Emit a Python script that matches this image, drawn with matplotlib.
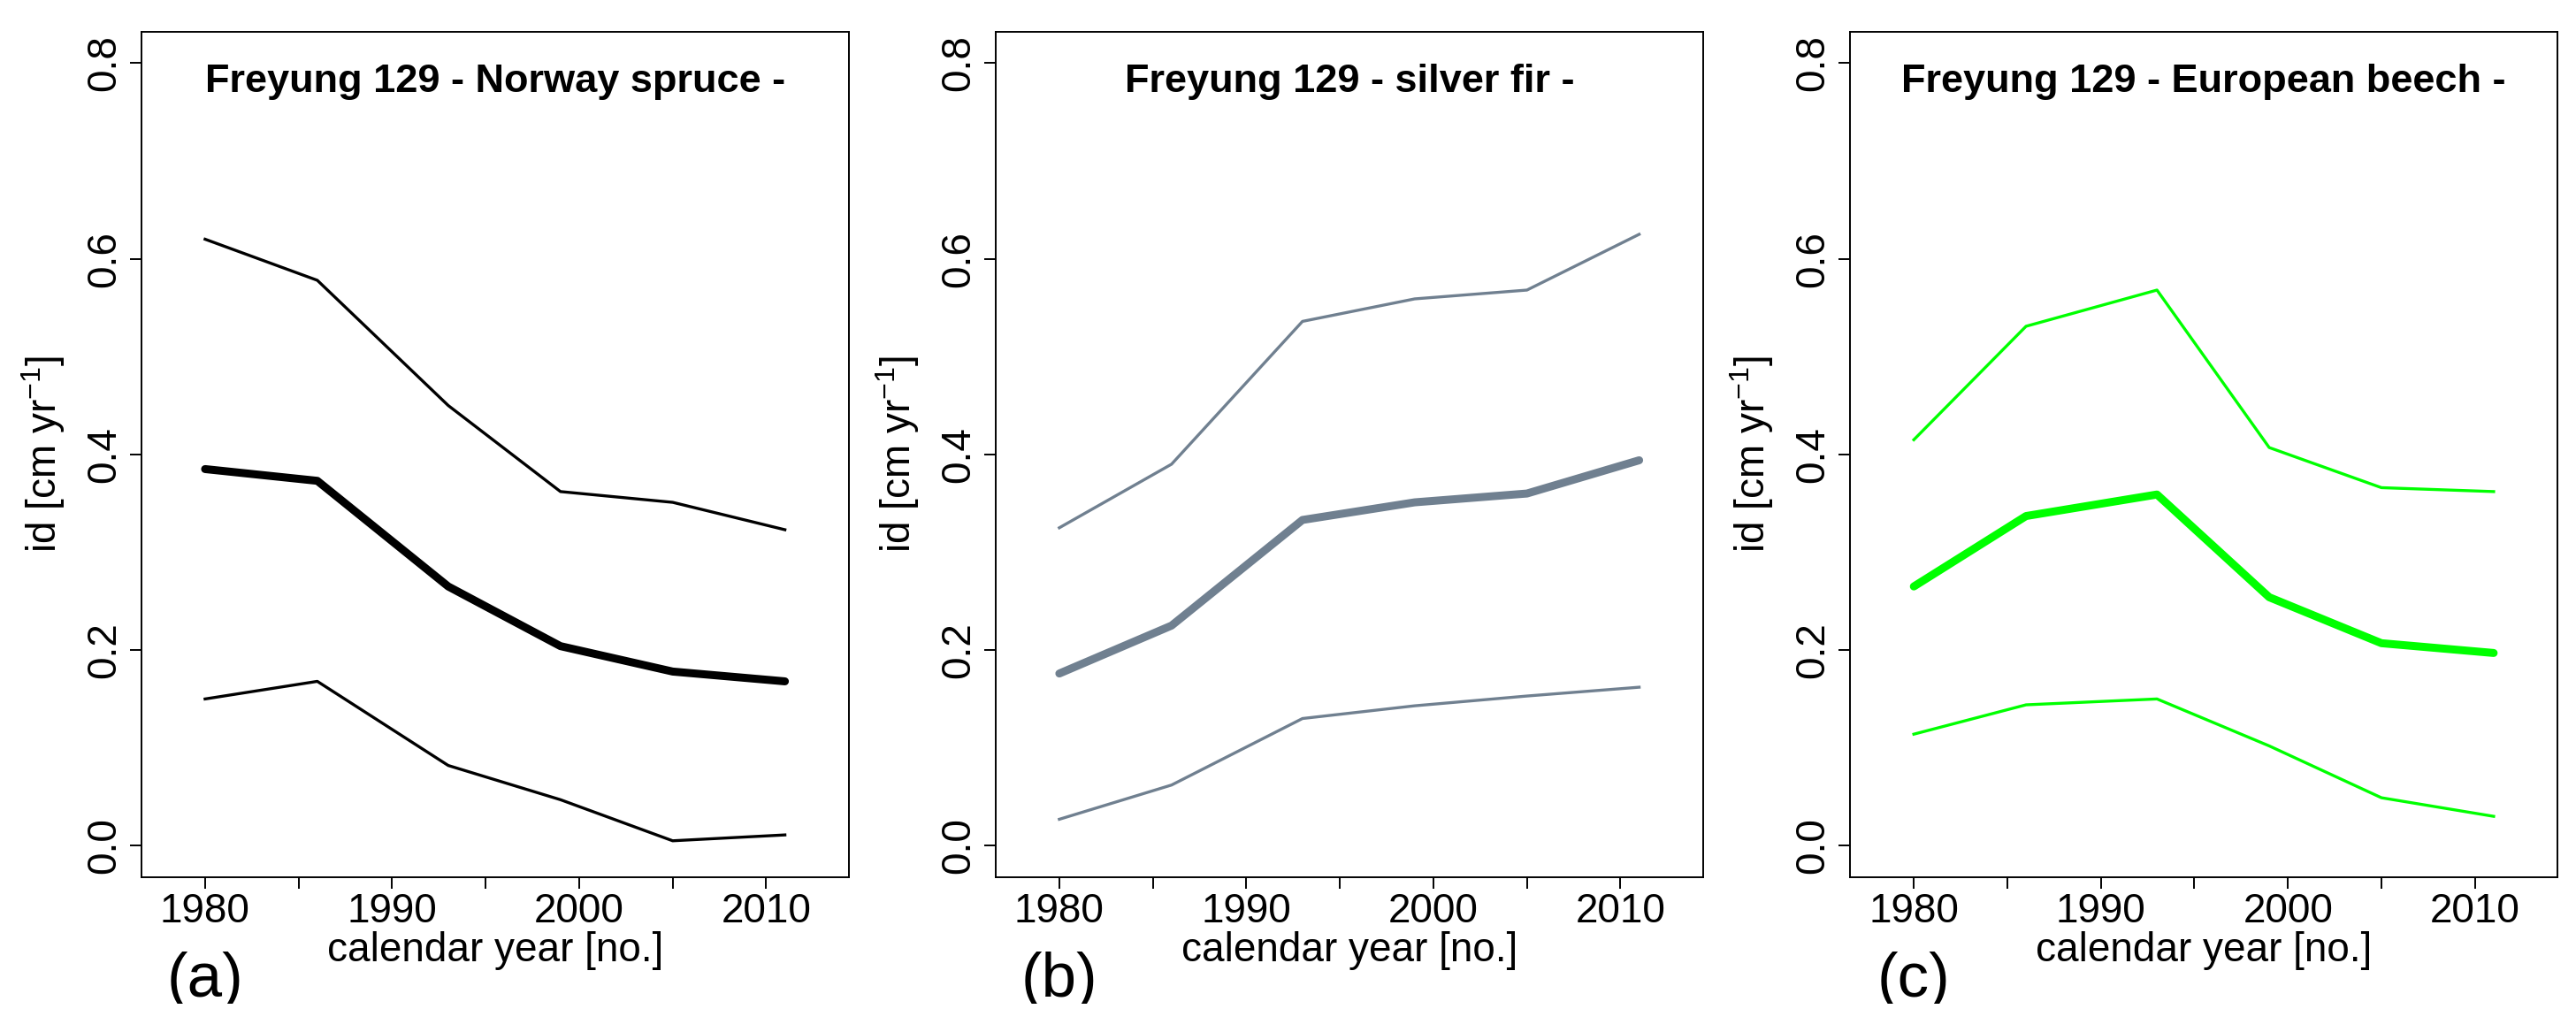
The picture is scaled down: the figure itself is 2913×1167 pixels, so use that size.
import matplotlib
matplotlib.use('Agg')
import matplotlib.pyplot as plt
import matplotlib.transforms as mtransforms

plt.rcParams['font.family'] = ['Liberation Sans', 'DejaVu Sans']
plt.rcParams['mathtext.fontset'] = 'custom'
plt.rcParams['mathtext.rm'] = 'Liberation Sans'
plt.rcParams['mathtext.it'] = 'Liberation Sans:italic'
plt.rcParams['mathtext.bf'] = 'Liberation Sans:bold'

# calendar years of the inventory points
years = [1980, 1986, 1993, 1999, 2005, 2011]

# Norway spruce: upper bound, mean, lower bound (cm/yr)
spruce_upper = [0.620, 0.578, 0.450, 0.362, 0.351, 0.323]
spruce_mean = [0.385, 0.373, 0.265, 0.204, 0.178, 0.168]
spruce_lower = [0.150, 0.168, 0.082, 0.047, 0.005, 0.011]

# silver fir
fir_upper = [0.325, 0.390, 0.536, 0.559, 0.568, 0.625]
fir_mean = [0.176, 0.225, 0.333, 0.351, 0.360, 0.394]
fir_lower = [0.027, 0.062, 0.130, 0.143, 0.153, 0.162]

# European beech
beech_upper = [0.415, 0.531, 0.568, 0.407, 0.366, 0.362]
beech_mean = [0.265, 0.337, 0.359, 0.254, 0.207, 0.197]
beech_lower = [0.114, 0.144, 0.150, 0.102, 0.049, 0.030]

titles = ['Freyung 129 - Norway spruce -',
          'Freyung 129 - silver fir -',
          'Freyung 129 - European beech -']
panel_tags = ['(a)', '(b)', '(c)']
colors = ['black', '#708090', '#00ff00']
series = [(spruce_upper, spruce_mean, spruce_lower),
          (fir_upper, fir_mean, fir_lower),
          (beech_upper, beech_mean, beech_lower)]

xticks = [1980, 1985, 1990, 1995, 2000, 2005, 2010]
xticklabels = ['1980', '', '1990', '', '2000', '', '2010']
yticks = [0.0, 0.2, 0.4, 0.6, 0.8]

W, H = 2913, 1167
fig = plt.figure(figsize=(W / 100, H / 100), dpi=100)

lefts = [160, 1126, 2092.3]
ax_bottom_px, ax_top_px, ax_w_px = 991.7, 36, 799.5

for i in range(3):
    ax = fig.add_axes([lefts[i] / W, (H - ax_bottom_px) / H,
                       ax_w_px / W, (ax_bottom_px - ax_top_px) / H])
    up, mean, lo = series[i]
    ax.plot(years, up, color=colors[i], lw=2.4, solid_joinstyle='round')
    ax.plot(years, mean, color=colors[i], lw=6.5,
            solid_capstyle='round', solid_joinstyle='round')
    ax.plot(years, lo, color=colors[i], lw=2.4, solid_joinstyle='round')

    ax.set_xlim(1976.6, 2014.4)
    ax.set_ylim(-0.032, 0.832)
    ax.set_xticks(xticks)
    ax.set_xticklabels(xticklabels)
    ax.set_yticks(yticks)
    ax.set_yticklabels([f'{v:.1f}' for v in yticks])

    for sp in ax.spines.values():
        sp.set_linewidth(1.4)
    ax.tick_params(direction='out', length=9.6, width=1.4, labelsize=33)
    ax.tick_params(axis='x', pad=2.6)
    ax.tick_params(axis='y', pad=4.8)
    for lab in ax.get_yticklabels():
        lab.set_rotation(90)
        lab.set_va('center')

    ax.text(0.5, 0.929, titles[i], transform=ax.transAxes, ha='center',
            va='baseline', fontsize=32.5, fontweight='bold')

    ax.set_ylabel('id [cm yr$^{-1}$]', fontsize=33)
    ax.yaxis.set_label_coords(-0.105, 0.5)

    ax.set_xlabel('calendar year [no.]', fontsize=33)
    ax.xaxis.set_label_coords(0.5, -0.0997)
    ax.xaxis.label.set_va('baseline')

    trans = mtransforms.blended_transform_factory(ax.transData, fig.transFigure)
    t = fig.text(1980, (H - 1127) / H, panel_tags[i], transform=trans,
                 ha='center', va='baseline', fontsize=51)
    clip = mtransforms.TransformedBbox(
        mtransforms.Bbox([[0, (H - 1135) / H], [1, 1]]), fig.transFigure)
    t.set_clip_box(clip)
    t.set_clip_on(True)

fig.savefig('out.png', dpi=100)
